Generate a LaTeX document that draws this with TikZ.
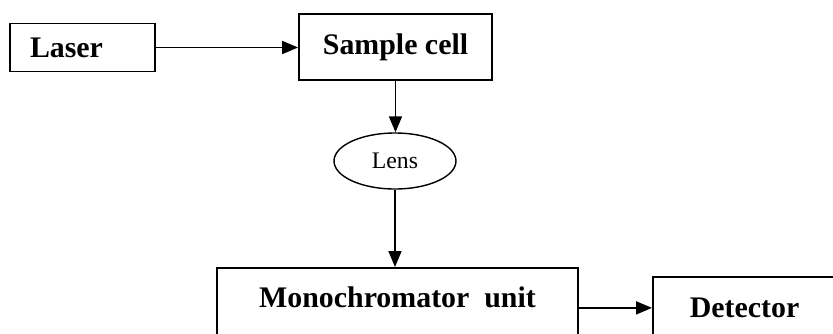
\documentclass[tikz,border=0pt]{standalone}
\usepackage{fontspec}
\setmainfont{Liberation Serif}
\usetikzlibrary{arrows.meta,shapes.geometric}
\tikzset{
  block/.style={draw, line width=1pt, font=\fontsize{17}{20}\selectfont\bfseries},
  lensnode/.style={draw, ellipse, line width=0.8pt, minimum width=2.44cm, minimum height=1.12cm, inner sep=0pt, font=\fontsize{13.5}{15}\selectfont},
  flow/.style={line width=1pt, -{Triangle[length=0.32cm,width=0.26cm]}}
}
\begin{document}
\begin{tikzpicture}
  \useasboundingbox (0,0) rectangle (16.66,-6.66);
  \clip (0,0) rectangle (16.66,-6.66);
  \node[block, minimum width=2.9cm, minimum height=0.96cm, text width=2.1cm, inner xsep=0.4cm, align=left] (laser) at (1.65,-0.95) {Laser};
  \node[block, minimum width=3.86cm, minimum height=1.32cm] (sample) at (7.91,-0.94) {Sample cell};
  \node[lensnode] (lens) at (7.9,-3.22) {Lens};
  \node[block, anchor=north, minimum width=7.22cm, text height=0.4cm, text depth=1.2cm, inner ysep=0.4cm] (mono) at (7.95,-5.34) {Monochromator\ \ unit};
  \node[block, anchor=north west, text width=8cm, align=left, inner xsep=0.74cm, text height=0.4cm, text depth=1cm, inner ysep=0.42cm] (det) at (13.04,-5.52) {Detector};
  \draw[flow] (laser.east) -- (laser.east -| sample.west);
  \draw[flow] (sample.south) -- (sample.south |- lens.north);
  \draw[flow] (lens.south) -- (lens.south |- mono.north);
  \draw[flow] (mono.base east) -- (mono.base east -| det.west);
\end{tikzpicture}
\end{document}
